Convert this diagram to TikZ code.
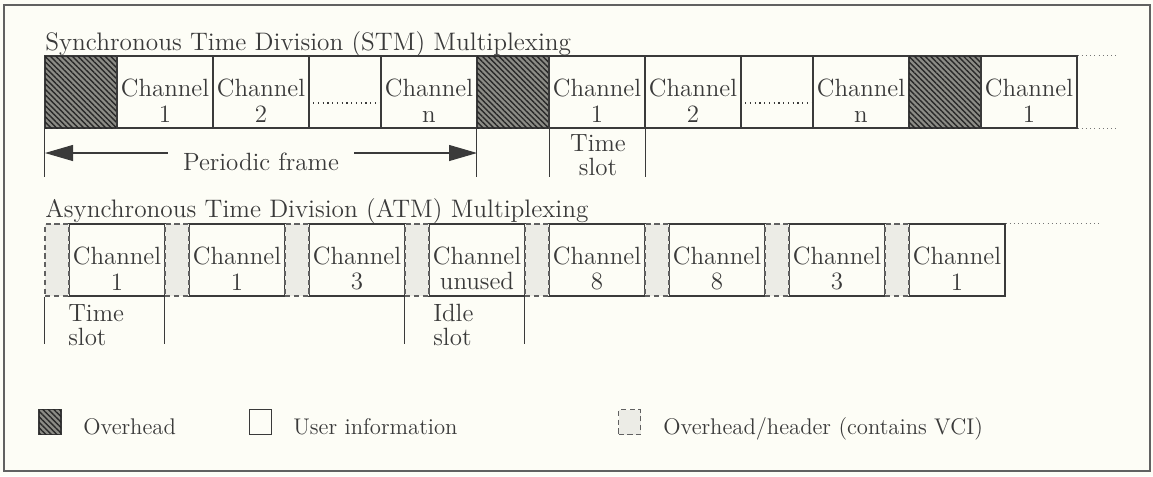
\documentclass[tikz,border=0pt]{standalone}
\usetikzlibrary{arrows.meta,patterns.meta}
\definecolor{paper}{HTML}{FDFDF6}
\definecolor{ink}{HTML}{3A3A3A}
\definecolor{hdrfill}{HTML}{ECECE6}
\definecolor{ohfill}{HTML}{8C8C86}
\tikzstyle{slot_cell}=[rectangle,
                       minimum height=1.44cm,
                       minimum width=1.92cm,
                       inner sep=0pt,
                       draw=ink,
                       line width=0.6pt ]
\tikzstyle{oh_cell}=[slot_cell,
                     minimum width=1.44cm,
                     fill=ohfill,
                     postaction={pattern={Lines[angle=-45,distance=2.2pt,line width=0.8pt]},
                                 pattern color=ink!70!black} ]
\tikzstyle{dot_cell}=[slot_cell, minimum width=1.44cm]
\tikzstyle{hdr_cell}=[slot_cell, minimum width=0.48cm, fill=hdrfill, draw=ink!80, densely dashed]
\tikzstyle{cell_text}=[align=center, inner sep=0pt, text=ink,
                       font=\fontsize{14.2}{14.6}\selectfont]
\tikzstyle{title_text}=[anchor=base west, inner sep=0pt, text=ink,
                        font=\fontsize{14.4}{16}\selectfont]
\tikzstyle{legend_text}=[title_text, font=\fontsize{12.9}{15}\selectfont]

\begin{document}
\begin{tikzpicture}
  \fill[paper] (0cm, 0cm) rectangle (23.06cm, -9.52cm);
  \draw[ink!80, line width=0.8pt] (0.08cm, -0.10cm) rectangle (23.00cm, -9.42cm);

  % STM
  \node at (0.9cm, -1.0cm) (stm_title) [title_text] {Synchronous Time Division (STM) Multiplexing};
  \node at (1.62cm, -1.84cm) (stm_oh1) [oh_cell] {};
  \node at (3.30cm, -1.84cm) (stm_c1) [slot_cell] {};
  \node at (5.22cm, -1.84cm) (stm_c2) [slot_cell] {};
  \node at (6.90cm, -1.84cm) (stm_d1) [dot_cell] {};
  \node at (8.58cm, -1.84cm) (stm_cn) [slot_cell] {};
  \node at (10.26cm, -1.84cm) (stm_oh2) [oh_cell] {};
  \node at (11.94cm, -1.84cm) (stm_c1b) [slot_cell] {};
  \node at (13.86cm, -1.84cm) (stm_c2b) [slot_cell] {};
  \node at (15.54cm, -1.84cm) (stm_d2) [dot_cell] {};
  \node at (17.22cm, -1.84cm) (stm_cnb) [slot_cell] {};
  \node at (18.90cm, -1.84cm) (stm_oh3) [oh_cell] {};
  \node at (20.58cm, -1.84cm) (stm_c1c) [slot_cell] {};

  \foreach \nm/\lb in {stm_c1/1, stm_c2/2, stm_cn/n, stm_c1b/1, stm_c2b/2, stm_cnb/n, stm_c1c/1} {
    \node at ([yshift=-0.18cm]\nm.center) (\nm_txt) [cell_text] {Channel\\\lb};
  }
  \foreach \nm in {stm_d1, stm_d2} {
    \draw[ink, dotted, line width=0.7pt] ([yshift=-0.22cm]\nm.west) -- ([yshift=-0.22cm]\nm.east);
  }
  \draw[ink!70, dotted] (stm_c1c.north east) -- ++(0.8cm, 0cm);
  \draw[ink!70, dotted] (stm_c1c.south east) -- ++(0.8cm, 0cm);

  \draw[ink, line width=0.6pt] (stm_oh1.south west) -- ++(0cm, -0.96cm);
  \draw[ink, line width=0.6pt] (stm_oh2.south west) -- ++(0cm, -0.96cm);
  \draw[ink, line width=0.6pt] (stm_oh2.south east) -- ++(0cm, -0.96cm);
  \draw[ink, line width=0.6pt] (stm_c1b.south east) -- ++(0cm, -0.96cm);

  \coordinate (pf_l) at (0.9cm, -3.06cm);
  \coordinate (pf_r) at (9.54cm, -3.06cm);
  \draw[{Triangle[length=0.56cm,width=0.32cm]}-{Triangle[length=0.56cm,width=0.32cm]}, ink, line width=0.6pt]
    (pf_l) -- node[fill=paper, yshift=-0.18cm] (pf_lbl)
    [cell_text, inner xsep=0.3cm, inner ysep=0.1cm] {Periodic frame} (pf_r);
  \node at (11.96cm, -3.10cm) (stm_ts) [cell_text] {Time\\[-1pt]slot};

  % ATM
  \node at (0.9cm, -4.34cm) (atm_title) [title_text] {Asynchronous Time Division (ATM) Multiplexing};
  \foreach \k/\lb in {0/1, 1/1, 2/3, 3/unused, 4/8, 5/8, 6/3, 7/1} {
    \node at (2.34cm + 2.4cm * \k, -5.20cm) (atm_c\k) [slot_cell] {};
    \node at (1.14cm + 2.4cm * \k, -5.20cm) (atm_h\k) [hdr_cell] {};
    \node at ([yshift=-0.17cm]atm_c\k.center) (atm_t\k) [cell_text] {Channel\\\lb};
  }
  \draw[ink!70, dotted] (atm_c7.north east) -- ++(1.94cm, 0cm);

  \draw[ink, line width=0.6pt] (atm_h0.south west) -- ++(0cm, -0.94cm);
  \draw[ink, line width=0.6pt] (atm_h1.south west) -- ++(0cm, -0.94cm);
  \draw[ink, line width=0.6pt] (atm_h3.south west) -- ++(0cm, -0.94cm);
  \draw[ink, line width=0.6pt] (atm_h4.south west) -- ++(0cm, -0.94cm);
  \node at (1.36cm, -6.08cm) (atm_ts) [cell_text, anchor=north west, align=left] {Time\\[-1pt]slot};
  \node at (8.66cm, -6.08cm) (atm_is) [cell_text, anchor=north west, align=left] {Idle\\[-1pt]slot};

  % legend
  \node at (1.00cm, -8.44cm) (lg_oh) [oh_cell, minimum width=0.44cm, minimum height=0.5cm] {};
  \node at (5.21cm, -8.44cm) (lg_ui) [slot_cell, minimum width=0.44cm, minimum height=0.5cm] {};
  \node at (12.59cm, -8.44cm) (lg_hd) [hdr_cell, minimum width=0.44cm, minimum height=0.5cm] {};
  \node at (1.66cm, -8.68cm) (lg_oh_txt) [legend_text] {Overhead};
  \node at (5.86cm, -8.68cm) (lg_ui_txt) [legend_text] {User information};
  \node at (13.26cm, -8.68cm) (lg_hd_txt) [legend_text] {Overhead/header (contains VCI)};
\end{tikzpicture}
\end{document}
